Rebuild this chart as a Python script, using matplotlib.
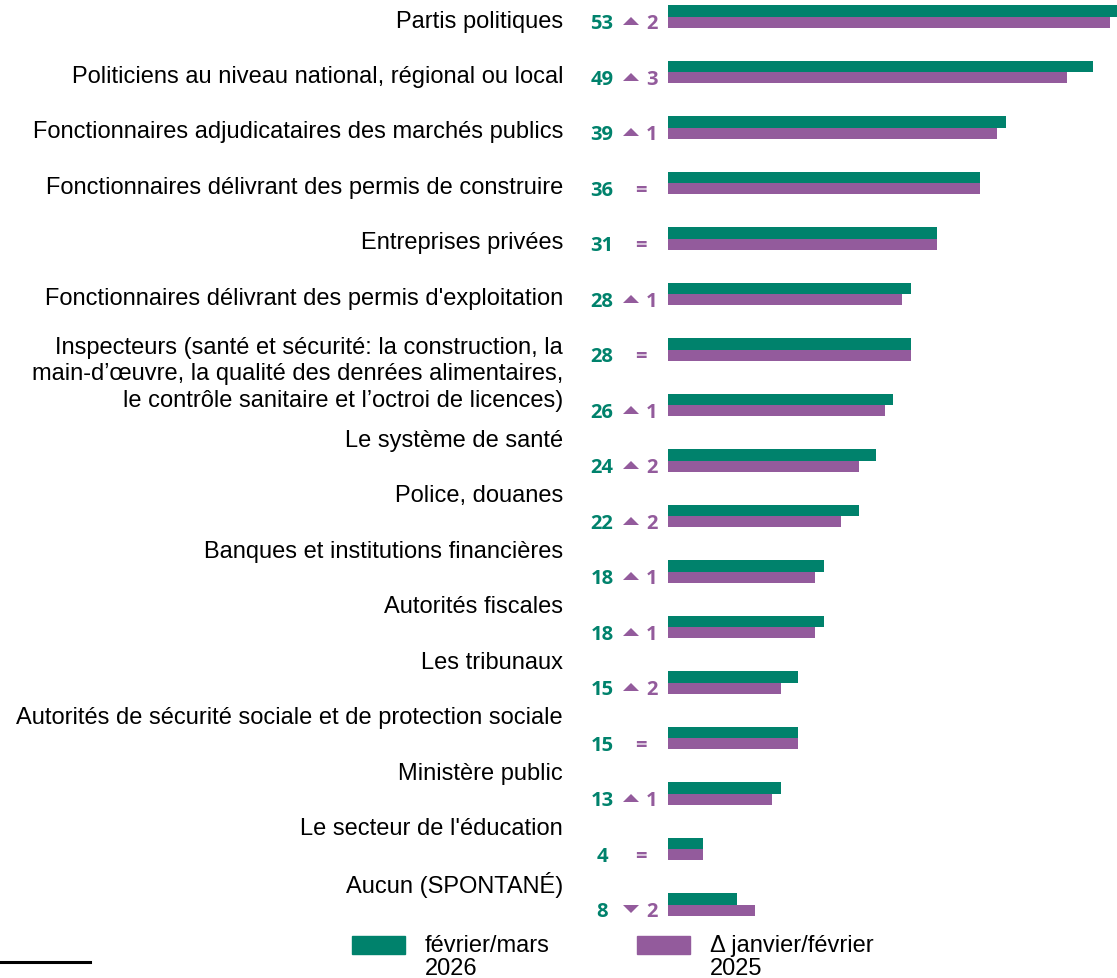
import matplotlib
matplotlib.use("Agg")
import matplotlib.pyplot as plt
from matplotlib.patches import Rectangle
from matplotlib.lines import Line2D
from matplotlib.markers import MarkerStyle
from matplotlib.transforms import offset_copy, Affine2D

# category labels as they appear on the left (16 labels for 17 bar rows)
labels = ["Partis politiques",
          "Politiciens au niveau national, régional ou local",
          "Fonctionnaires adjudicataires des marchés publics",
          "Fonctionnaires délivrant des permis de construire",
          "Entreprises privées",
          "Fonctionnaires délivrant des permis d'exploitation",
          "Inspecteurs (santé et sécurité: la construction, la\n"
          "main-d’œuvre, la qualité des denrées alimentaires,\n"
          "le contrôle sanitaire et l’octroi de licences)",
          "Le système de santé",
          "Police, douanes",
          "Banques et institutions financières",
          "Autorités fiscales",
          "Les tribunaux",
          "Autorités de sécurité sociale et de protection sociale",
          "Ministère public",
          "Le secteur de l'éducation",
          "Aucun (SPONTANÉ)"]

values_2026 = [53, 49, 39, 36, 31, 28, 28, 26, 24, 22, 18, 18, 15, 15, 13, 4, 8]
values_2025 = [51, 46, 38, 36, 31, 27, 28, 25, 22, 20, 17, 17, 13, 15, 12, 4, 10]
deltas = [2, 3, 1, 0, 0, 1, 0, 1, 2, 2, 1, 1, 2, 0, 1, 0, -2]

legend_names = ["février/mars\n2026", "Δ janvier/février\n2025"]

GREEN = "#00826c"
PURPLE = "#935b9c"

# label rows (the labels drift away from the bars in the original)
label_rows = [0.08, 1.07, 2.07, 3.07, 4.07, 5.07, 6.43] + [k + 0.63 for k in range(7, 16)]

W, H = 1117, 979
fig = plt.figure(figsize=(W / 100, H / 100), dpi=100)
ax = fig.add_axes([668 / W, 0, 1 - 668 / W, 1])
ax.set_xlim(0, 449 / 8.67)
ax.set_ylim((H - 17.5) / 55.5, -17.5 / 55.5)
ax.axis("off")

rows = list(range(len(values_2026)))
bh = 0.207
ax.barh([r - bh / 2 for r in rows], values_2026, height=bh, color=GREEN,
        edgecolor="none", label=legend_names[0])
ax.barh([r + bh / 2 for r in rows], values_2025, height=bh, color=PURPLE,
        edgecolor="none", label=legend_names[1])

flat = Affine2D().scale(1, 0.5)
up = MarkerStyle("^", transform=flat)
down = MarkerStyle("v", transform=flat)
tri_tr = offset_copy(ax.transData, fig=fig, x=-37, y=0, units="dots")

num_font = dict(family="Open Sans", weight="bold", fontsize=14.5)
for r, v, d in zip(rows, values_2026, deltas):
    y = r + bh / 2
    ax.annotate(str(v), (0, y), xytext=(-66, -1), textcoords="offset pixels",
                ha="center", va="center", color=GREEN, annotation_clip=False, **num_font)
    if d == 0:
        ax.annotate("=", (0, y), xytext=(-27, -1), textcoords="offset pixels",
                    ha="center", va="center", color=PURPLE, annotation_clip=False, **num_font)
    else:
        ax.plot([0], [y - 0.02], marker=up if d > 0 else down,
                markersize=11, color=PURPLE, markeredgewidth=0,
                transform=tri_tr, clip_on=False)
        ax.annotate(str(abs(d)), (0, y), xytext=(-16, -1), textcoords="offset pixels",
                    ha="center", va="center", color=PURPLE, annotation_clip=False, **num_font)

for lab, lr in zip(labels, label_rows):
    ax.annotate(lab, (0, lr), xytext=(-105, 0), textcoords="offset pixels",
                ha="right", va="center", multialignment="right", linespacing=1.25,
                family="Liberation Sans", fontsize=17, color="black",
                annotation_clip=False)

# legend drawn by hand (swatch aligned with first text line)
def px(x, y):
    return x / W, 1 - y / H

for x0, col, name in [(352, GREEN, legend_names[0]), (637, PURPLE, legend_names[1])]:
    fx, fy = px(x0, 955)
    fig.add_artist(Rectangle((fx, fy), 53 / W, 18 / H, color=col,
                             transform=fig.transFigure))
    tx, ty = px(x0 + 73, 935)
    fig.text(tx, ty, name, ha="left", va="top", family="Liberation Sans",
             fontsize=17, linespacing=1.06)

# footnote rule
x1, y1 = px(0, 963)
x2, _ = px(90, 963)
fig.add_artist(Line2D([x1, x2], [y1, y1], color="black", lw=2.2,
                      transform=fig.transFigure))

fig.savefig("out.png", dpi=100)
